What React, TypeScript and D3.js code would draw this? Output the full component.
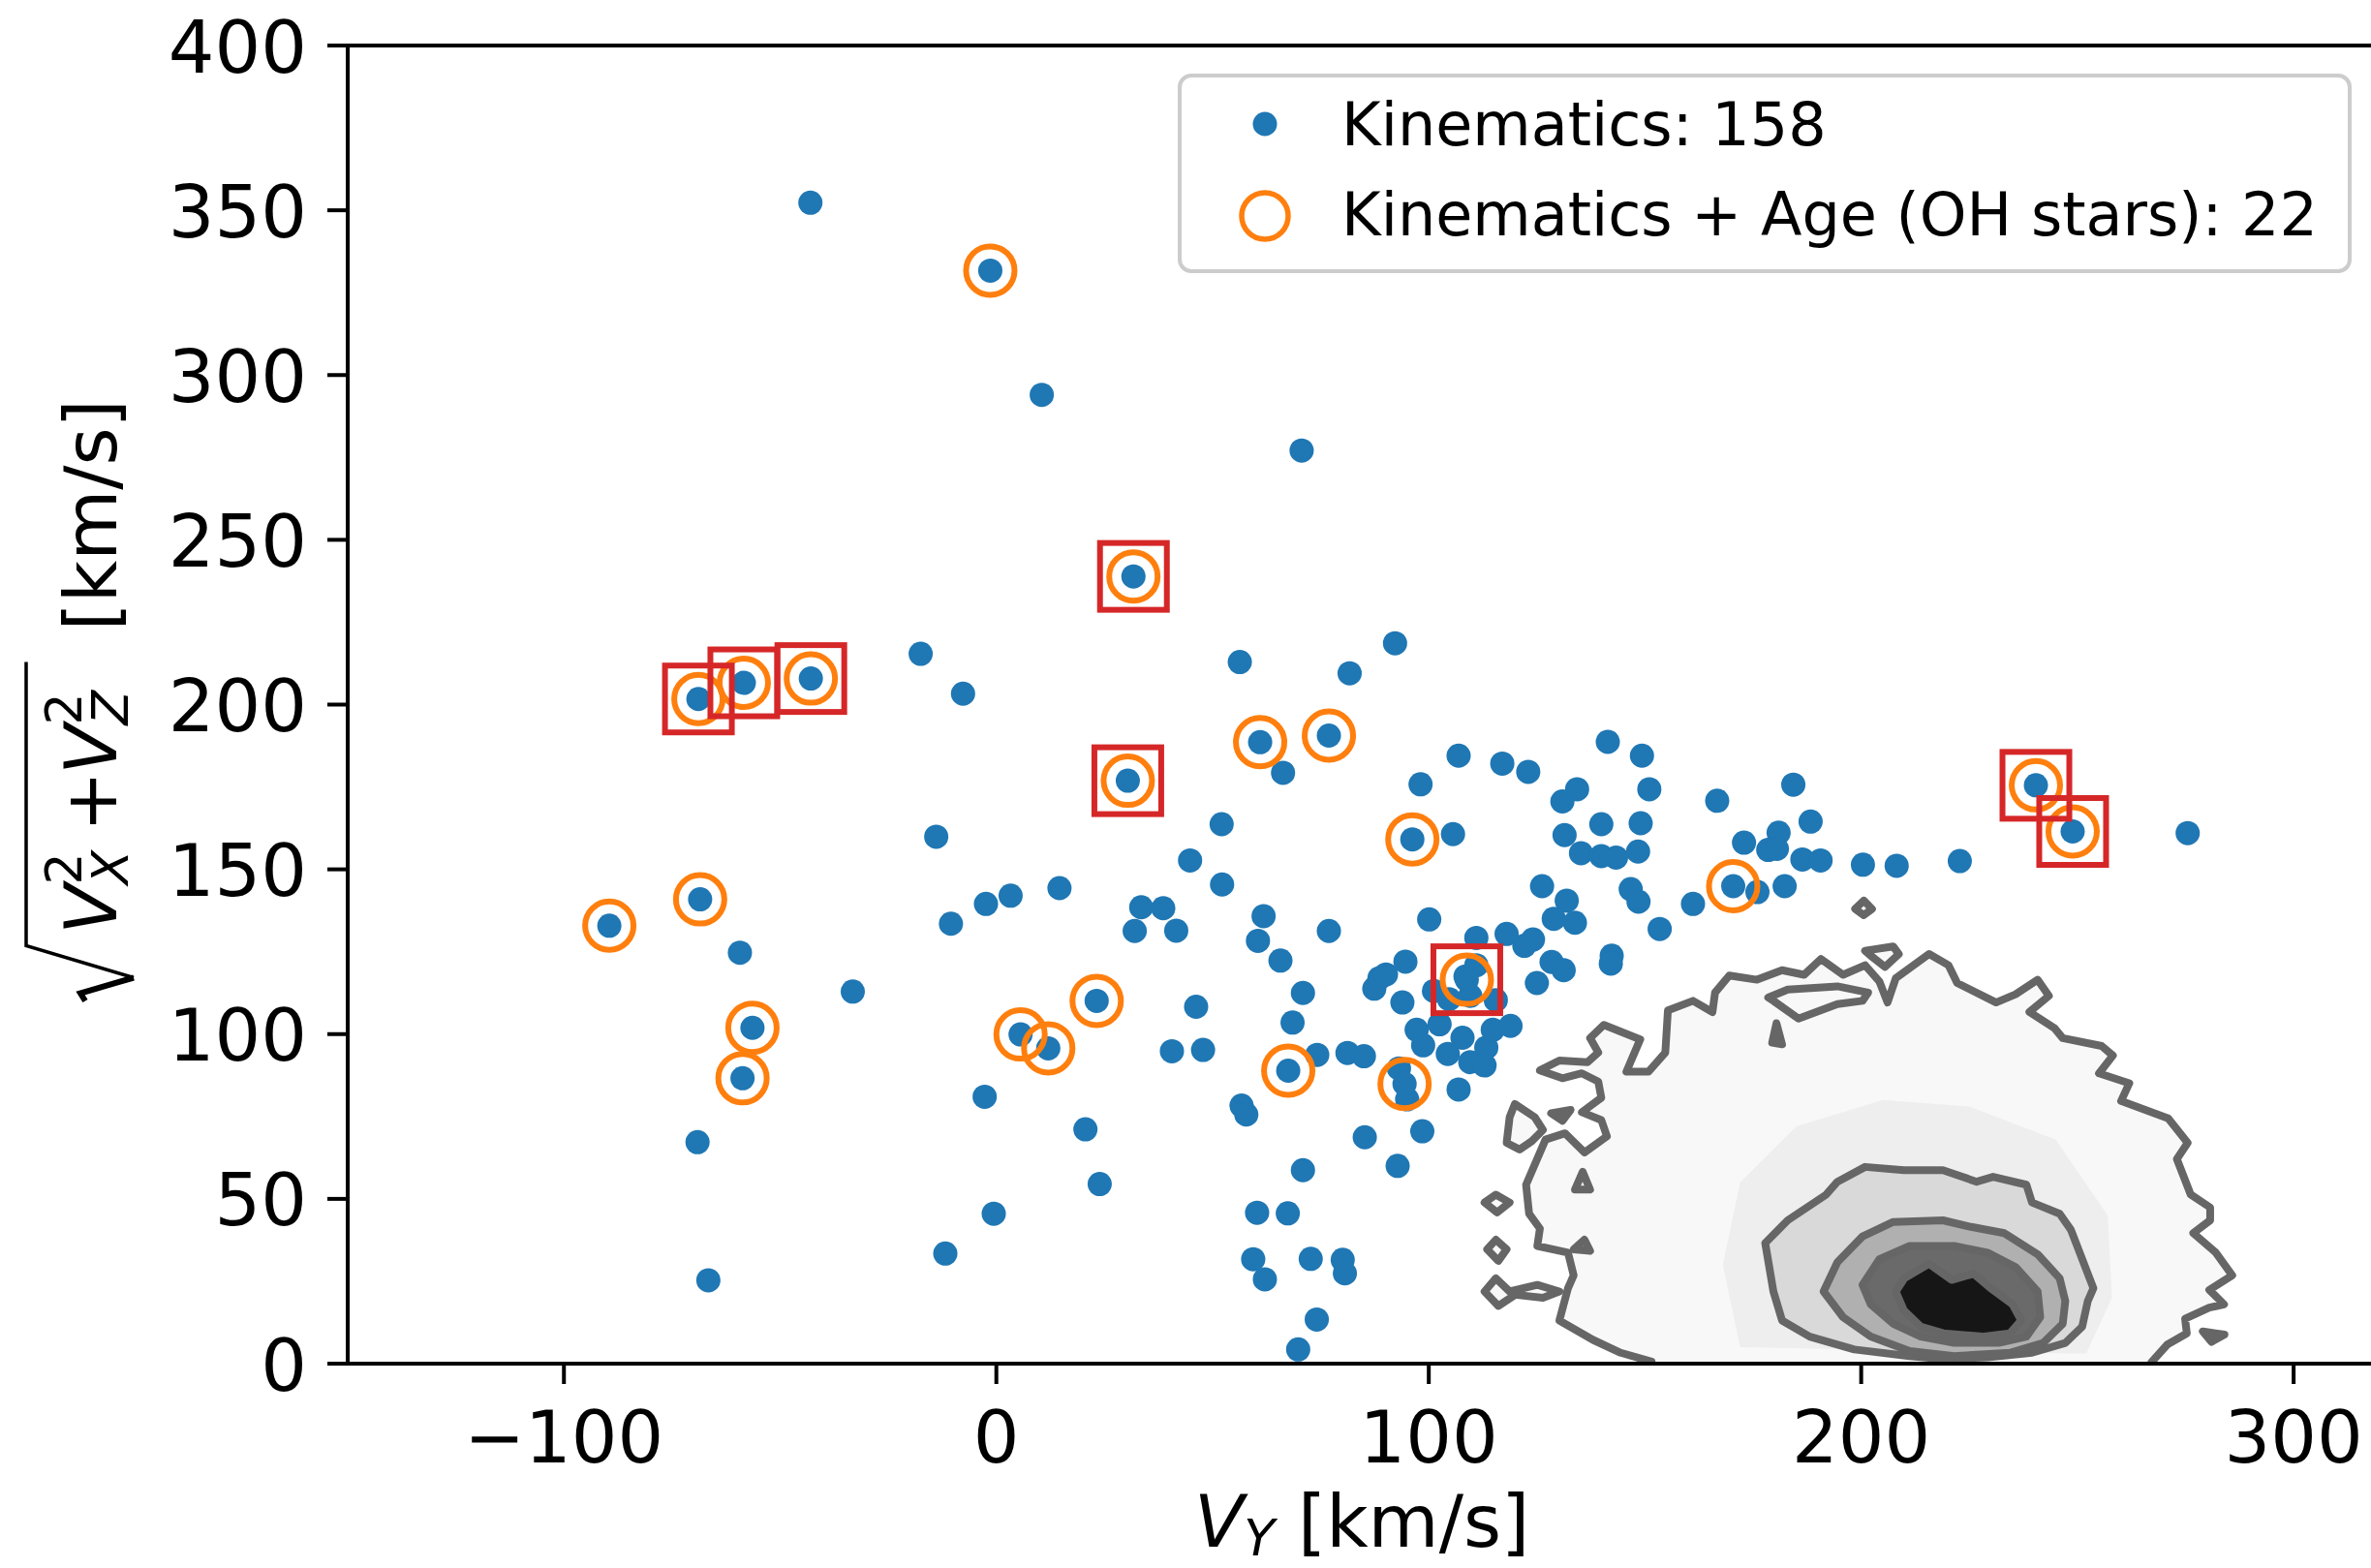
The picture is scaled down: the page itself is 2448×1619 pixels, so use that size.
import React from "react";
import * as d3 from "d3";

type P = [number, number];

// ---- data (V_Y, sqrt(Vx^2+Vz^2)) in km/s ----
const kinematicsOnly: P[] = [
  [-17.5, 215.4], [-7.7, 203.3], [-13.9, 159.9], [-59.3, 124.7], [-33.2, 112.9], [-10.5, 133.5], [-2.4, 139.5], [3.3, 142.0],
  [-69.1, 67.2], [-66.6, 25.3], [-2.7, 81.0], [-0.6, 45.5], [-11.8, 33.4],
  [56.3, 212.9], [81.7, 209.5], [92.2, 218.6], [66.3, 179.3], [52.1, 163.7], [44.8, 152.7],
  [52.2, 145.4], [14.6, 144.3], [33.5, 138.5], [38.6, 138.2], [32.0, 131.3], [41.6, 131.4], [61.8, 135.8], [60.5, 128.3],
  [65.7, 122.3], [76.9, 131.3], [70.9, 112.5], [68.5, 103.5], [90.1, 118.1], [87.4, 113.8], [94.6, 122.0], [93.9, 109.6],
  [46.2, 108.3], [40.6, 94.8], [47.8, 95.2], [74.2, 93.7], [81.2, 94.3], [85.0, 93.3], [56.7, 78.3], [57.8, 75.6],
  [20.6, 71.1], [23.9, 54.5], [85.2, 68.7], [92.8, 60.0], [70.9, 58.7], [60.3, 45.8], [67.4, 45.6], [59.4, 31.7],
  [62.1, 25.6], [72.7, 31.8], [80.1, 31.5], [80.6, 27.4], [74.1, 13.4], [69.8, 4.3],
  [106.9, 184.5], [117.0, 182.1], [123.0, 179.6], [98.1, 175.8], [141.4, 188.7], [149.3, 184.5], [151.0, 174.3],
  [134.3, 174.3], [130.9, 170.6], [166.7, 170.8], [139.9, 163.7], [149.0, 164.0], [131.4, 160.4], [105.6, 160.7],
  [135.2, 154.9], [139.9, 154.0], [143.3, 153.6], [148.4, 155.4], [126.2, 144.9], [146.7, 144.0], [148.5, 140.2],
  [161.1, 139.5], [131.9, 140.5], [128.9, 135.0], [133.8, 133.8], [153.4, 131.9], [100.1, 134.8], [111.0, 129.2],
  [118.0, 130.4], [122.1, 126.8], [124.1, 128.7], [128.4, 121.9], [131.2, 119.4], [125.0, 115.5], [142.3, 123.8],
  [142.1, 121.4], [108.5, 117.5], [111.0, 120.9], [101.2, 113.1], [104.7, 110.6], [115.5, 110.3], [109.6, 111.6],
  [88.6, 117.0], [97.2, 101.3], [98.7, 96.6], [102.5, 103.0], [107.8, 98.9], [104.4, 94.0], [109.6, 91.5],
  [112.9, 90.5], [113.3, 95.9], [114.8, 101.3], [118.9, 102.5], [93.1, 89.6], [95.0, 80.2], [106.9, 83.2], [98.5, 70.5],
  [184.3, 175.7], [188.3, 164.5], [172.9, 158.1], [180.9, 161.1], [178.5, 155.9], [180.5, 156.2], [186.4, 153.0],
  [190.6, 152.7], [200.4, 151.4], [208.2, 151.1], [222.8, 152.5], [176.0, 143.1], [182.3, 144.9],
  [-43.0, 352.3], [10.5, 294.0], [70.6, 277.1], [275.5, 161.0],
];

const ohStars: P[] = [
  [-68.9, 201.7], [-58.4, 206.6], [-42.9, 207.9], [-68.5, 140.9], [-89.5, 132.9], [-56.4, 101.9], [-58.7, 86.6],
  [5.6, 99.9], [12.0, 95.7], [31.7, 238.9], [30.4, 176.9], [61.0, 188.6], [76.9, 190.6], [96.2, 159.1],
  [23.2, 110.1], [67.5, 88.9], [94.4, 84.9], [108.8, 116.5], [170.4, 144.9], [240.4, 175.5], [248.9, 161.5],
  [-1.4, 331.7],
];

const flaggedStars: P[] = [
  [-68.9, 201.7], [-58.4, 206.6], [-42.9, 207.9], [31.7, 238.9], [30.4, 176.9], [108.8, 116.5], [240.4, 175.5], [248.9, 161.5],
];

// ---- disk density contours ----
const contourOuter: P[] = [
  [151.5, 0.6], [144.4, 3.3], [138.0, 7.2], [130.2, 13.1], [132.2, 22.9], [133.5, 26.8], [132.2, 33.7], [125.1, 35.7],
  [125.7, 41.0], [123.2, 45.5], [122.5, 54.3], [127.0, 68.0], [131.5, 69.9], [136.0, 64.1], [141.2, 69.0], [139.9, 73.9],
  [135.4, 76.3], [139.9, 80.7], [139.2, 85.6], [135.4, 88.1], [130.9, 86.6], [125.7, 89.0], [130.2, 92.0], [136.7, 91.5],
  [139.2, 94.4], [137.3, 98.8], [140.5, 102.8], [148.9, 98.4], [145.7, 88.6], [150.8, 88.6], [154.7, 94.4], [155.3, 107.2],
  [161.1, 110.1], [165.6, 106.7], [166.2, 112.6], [169.5, 117.8], [175.9, 116.5], [181.7, 119.4], [186.8, 118.0],
  [190.7, 122.8], [195.8, 118.0], [200.9, 120.9], [204.2, 116.0], [206.1, 109.6], [208.0, 117.0], [215.7, 124.3],
  [220.2, 120.9], [222.2, 115.5], [231.2, 109.6], [235.7, 112.1], [240.8, 116.5], [243.4, 111.6], [238.9, 106.7],
  [244.7, 101.8], [246.6, 98.8], [255.6, 96.4], [258.2, 93.5], [255.0, 88.1], [262.0, 85.1], [260.1, 79.7], [271.0, 74.4],
  [275.5, 67.0], [273.0, 62.1], [276.2, 51.3], [280.7, 47.4], [280.7, 43.5], [276.8, 39.6], [282.0, 33.7], [285.8, 26.8],
  [280.5, 22.4], [283.9, 18.0], [280.5, 17.0], [274.9, 13.6], [275.3, 9.2], [270.8, 5.8], [267.1, 0.4],
];

const contourIslands: P[][] = [
  [[119.9, 78.8], [124.5, 74.8], [126.4, 70.9], [123.8, 67.5], [121.0, 65.0], [118.0, 67.0], [118.7, 74.8]],
  [[128.3, 76.0], [132.8, 77.0], [130.9, 73.7]],
  [[135.6, 58.2], [137.3, 52.8], [133.8, 52.8]],
  [[115.5, 51.3], [118.7, 48.9], [115.8, 45.9], [112.9, 48.9]],
  [[115.5, 37.6], [118.0, 34.7], [116.1, 31.2], [113.5, 34.7]],
  [[136.0, 37.6], [137.3, 34.2], [133.5, 34.7]],
  [[115.5, 25.9], [118.7, 21.9], [125.1, 23.9], [130.2, 21.9], [126.4, 20.0], [120.0, 20.9], [116.1, 17.5], [112.9, 21.9]],
  [[180.4, 103.3], [181.7, 96.9], [179.4, 97.4]],
  [[178.5, 111.1], [183.0, 113.5], [194.5, 114.5], [201.6, 112.6], [200.3, 110.1], [194.5, 109.1], [185.5, 104.7], [179.7, 110.1]],
  [[200.9, 125.3], [207.4, 126.6], [208.7, 124.3], [205.5, 120.4], [202.2, 123.8]],
  [[200.6, 140.5], [202.5, 138.0], [200.6, 136.1], [198.6, 138.0]],
  [[279.0, 9.8], [284.0, 8.8], [281.0, 6.6]],
];

// light-gray zone of the histogram between the outer two contours
const shadeMid: P[] = [
  [172, 5], [168, 30], [172, 55], [185, 72], [205, 80], [225, 78], [245, 68], [257, 45], [258, 20], [252, 3],
];

const contourLevel2: P[] = [
  [181.7, 13.1], [179.7, 21.9], [177.8, 36.6], [183.0, 43.5], [191.9, 51.3], [194.5, 55.2], [200.9, 59.7], [209.9, 58.7],
  [218.9, 58.7], [226.7, 55.2], [230.5, 56.7], [238.2, 54.3], [239.5, 48.9], [245.9, 45.5], [248.5, 40.6], [253.7, 22.9],
  [252.4, 19.0], [251.1, 11.2], [247.2, 6.3], [239.5, 3.3], [229.2, 1.9], [218.9, 1.4], [211.2, 2.3], [198.4, 4.3], [188.1, 8.2],
];

const contourLevel3: P[] = [
  [191.3, 21.9], [194.5, 30.8], [200.3, 38.6], [207.4, 43.0], [218.9, 43.5], [225.4, 41.5], [233.1, 39.6], [240.8, 33.2],
  [245.9, 25.9], [247.2, 19.0], [246.6, 12.1], [242.1, 6.3], [234.4, 3.3], [221.5, 2.3], [211.2, 3.8], [202.2, 8.2], [195.8, 14.1],
];

const contourLevel4: P[] = [
  [200.3, 23.9], [204.2, 31.7], [211.2, 35.7], [221.5, 35.7], [229.2, 33.7], [235.7, 29.3], [240.8, 21.9], [241.4, 14.1],
  [238.2, 8.2], [231.8, 6.3], [221.5, 6.3], [213.8, 8.2], [207.4, 12.1], [202.2, 18.0],
];

const contourLevel5: P[] = [
  [208.0, 21.9], [210.0, 25.9], [215.7, 30.3], [220.9, 25.4], [226.0, 27.3], [229.9, 22.9], [235.0, 18.0], [237.0, 13.1],
  [234.4, 9.2], [228.0, 8.2], [219.0, 9.2], [213.8, 11.2], [209.9, 16.1],
];

const xTickValues = [-100, 0, 100, 200, 300];
const yTickValues = [0, 50, 100, 150, 200, 250, 300, 350, 400];
const legendLabels = ["Kinematics: 158", "Kinematics + Age (OH stars): 22"];

const BLUE = "#1f77b4";
const ORANGE = "#ff7f0e";
const RED = "#d62728";
const CONTOUR = "#666666";
const FONT = "DejaVu Sans";

export default function App() {
  const x = d3.scaleLinear().domain([-150, 321.7]).range([359, 2465]);
  const y = d3.scaleLinear().domain([0, 400]).range([1408, 47]);
  const line = d3.line<P>().x((d) => x(d[0])).y((d) => y(d[1]));
  const closed = (pts: P[]) => (line(pts) || "") + "Z";
  const fmt = (v: number) => (v < 0 ? "\u2212" + Math.abs(v) : String(v));

  const [x0, x1] = x.range();
  const [yb, yt] = y.range();

  return (
    <svg
      width={2448}
      height={1619}
      style={{ position: "absolute", left: 0, top: 0, display: "block", background: "#fff" }}
      fontFamily={FONT}
    >
      <rect x={0} y={0} width={2448} height={1619} fill="#fff" />
      <defs>
        <clipPath id="plotclip">
          <rect x={x0} y={yt} width={x1 - x0} height={yb - yt} />
        </clipPath>
      </defs>

      <g clipPath="url(#plotclip)">
        {/* density shading */}
        <path d={closed(contourOuter)} fill="#f8f8f8" />
        {contourIslands.map((c, i) => (
          <path key={"if" + i} d={closed(c)} fill="#f8f8f8" />
        ))}
        <path d={closed(shadeMid)} fill="#eeeeee" />
        <path d={closed(contourLevel2)} fill="#d9d9d9" />
        <path d={closed(contourLevel3)} fill="#b0b0b0" />
        <path d={closed(contourLevel4)} fill="#6a6a6a" />
        <path d={closed(contourLevel5)} fill="#161616" />

        {/* contour lines */}
        <g fill="none" stroke={CONTOUR} strokeWidth={8} strokeLinejoin="round" strokeLinecap="round">
          <path d={line(contourOuter) || ""} />
          {contourIslands.map((c, i) => (
            <path key={"il" + i} d={closed(c)} />
          ))}
          <path d={closed(contourLevel2)} />
          <path d={closed(contourLevel3)} />
          <path d={closed(contourLevel4)} />
          <path d={closed(contourLevel5)} />
        </g>

        {/* kinematics points */}
        {kinematicsOnly.concat(ohStars).map((d, i) => (
          <circle key={"k" + i} cx={x(d[0])} cy={y(d[1])} r={12.5} fill={BLUE} />
        ))}
        {ohStars.map((d, i) => (
          <circle key={"o" + i} cx={x(d[0])} cy={y(d[1])} r={25} fill="none" stroke={ORANGE} strokeWidth={6} />
        ))}
        {flaggedStars.map((d, i) => (
          <rect key={"s" + i} x={x(d[0]) - 34.5} y={y(d[1]) - 34.5} width={69} height={69} fill="none" stroke={RED} strokeWidth={6} />
        ))}
      </g>

      {/* spines */}
      <g stroke="#000" strokeWidth={4} strokeLinecap="square">
        <line x1={x0} y1={yt} x2={x0} y2={yb} />
        <line x1={x0} y1={yb} x2={x1} y2={yb} />
        <line x1={x0} y1={yt} x2={x1} y2={yt} />
        <line x1={x1} y1={yt} x2={x1} y2={yb} />
      </g>

      {/* x ticks */}
      {xTickValues.map((v) => (
        <g key={"xt" + v}>
          <line x1={x(v)} x2={x(v)} y1={yb} y2={yb + 21} stroke="#000" strokeWidth={4} />
          <text x={x(v)} y={1510} fontSize={75} textAnchor="middle" fill="#000">
            {fmt(v)}
          </text>
        </g>
      ))}
      {/* y ticks */}
      {yTickValues.map((v) => (
        <g key={"yt" + v}>
          <line x1={x0} x2={x0 - 21} y1={y(v)} y2={y(v)} stroke="#000" strokeWidth={4} />
          <text x={317} y={y(v) + 27.5} fontSize={75} textAnchor="end" fill="#000">
            {fmt(v)}
          </text>
        </g>
      ))}

      {/* x label */}
      <text x={1233} y={1597} fontSize={75} fill="#000">
        <tspan fontStyle="italic">V</tspan>
        <tspan fontStyle="italic" fontSize={52} dy={9}>Y</tspan>
        <tspan dy={-9}>{" [km/s]"}</tspan>
      </text>

      {/* y label */}
      <g transform="translate(120, 727.5) rotate(-90)" fill="#000" fontSize={75}>
        <path d="M -306 -32 L -298 -37 L -282 18" fill="none" stroke="#000" strokeWidth={6} strokeLinejoin="miter" />
        <path d="M -282 18 L -249 -93 L 44 -93" fill="none" stroke="#000" strokeWidth={3.5} />
        <text x={-237} y={0} fontStyle="italic">V</text>
        <text x={-186} y={12} fontSize={52} fontStyle="italic">X</text>
        <text x={-186} y={-36} fontSize={52}>2</text>
        <text x={-100} y={0} textAnchor="middle">+</text>
        <text x={-72} y={0} fontStyle="italic">V</text>
        <text x={-21} y={12} fontSize={52} fontStyle="italic">Z</text>
        <text x={-21} y={-36} fontSize={52}>2</text>
        <text x={76} y={0}>[km/s]</text>
      </g>

      {/* legend */}
      <g>
        <rect x={1218} y={78} width={1208} height={202} rx={12} ry={12} fill="#fff" fillOpacity={0.8} stroke="#cccccc" strokeWidth={4} />
        <circle cx={1306} cy={128} r={12.5} fill={BLUE} />
        <circle cx={1306} cy={223} r={24} fill="none" stroke={ORANGE} strokeWidth={5.5} />
        <text x={1385} y={150} fontSize={62} fill="#000">{legendLabels[0]}</text>
        <text x={1385} y={243} fontSize={62} fill="#000">{legendLabels[1]}</text>
      </g>
    </svg>
  );
}
